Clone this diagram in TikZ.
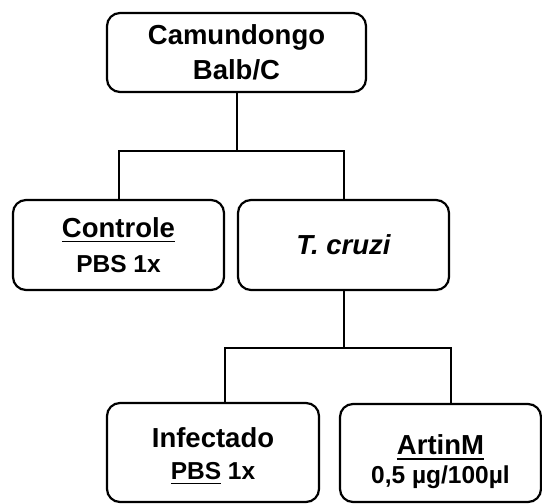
\documentclass[tikz,border=0pt]{standalone}
\usepackage{fontspec}
\setmainfont{Liberation Sans}
\newcommand{\ulin}[1]{\setbox0\hbox{#1}\rlap{\rule[-5pt]{\wd0}{1.8pt}}\box0}
\newcommand{\subtxt}{\fontsize{24.5}{31}\selectfont}
\tikzstyle{box} = [draw, line width=2.2pt, rounded corners=13pt, align=center, inner sep=0pt, font=\bfseries\fontsize{27.5}{35}\selectfont]
\tikzstyle{link} = [line width=2pt]

\begin{document}
\begin{tikzpicture}[x=1pt,y=1pt]
\useasboundingbox (0,0) rectangle (542,504);
\node[box, minimum width=259pt, minimum height=79pt] (mouse) at (236.5,451.5) {Camundongo\\Balb/C};
\node[box, minimum width=211pt, minimum height=90pt] (controle) at (118.5,259) {\ulin{Controle}\\{\subtxt PBS 1x}};
\node[box, minimum width=211pt, minimum height=90pt] (tcruzi) at (343.5,259) {\itshape T. cruzi};
\node[box, minimum width=212pt, minimum height=99pt] (infectado) at (213,51.5) {\rule{0pt}{27pt}Infectado\\[-3pt]{\subtxt \ulin{PBS}\ 1x}};
\node[box, minimum width=201pt, minimum height=98pt] (artinm) at (440.5,51) {\rule{0pt}{38pt}\ulin{ArtinM}\\[-6pt]{\subtxt 0,5 µg/100µl}};

\draw[link] (mouse.south) -- ++(0,-58) coordinate (split1);
\draw[link] (controle.north) |- (split1) -| (tcruzi.north);
\draw[link] (tcruzi.south) -- ++(0,-57) coordinate (split2);
\draw[link] ([xshift=12pt]infectado.north) |- (split2) -| ([xshift=10.5pt]artinm.north);
\end{tikzpicture}
\end{document}
